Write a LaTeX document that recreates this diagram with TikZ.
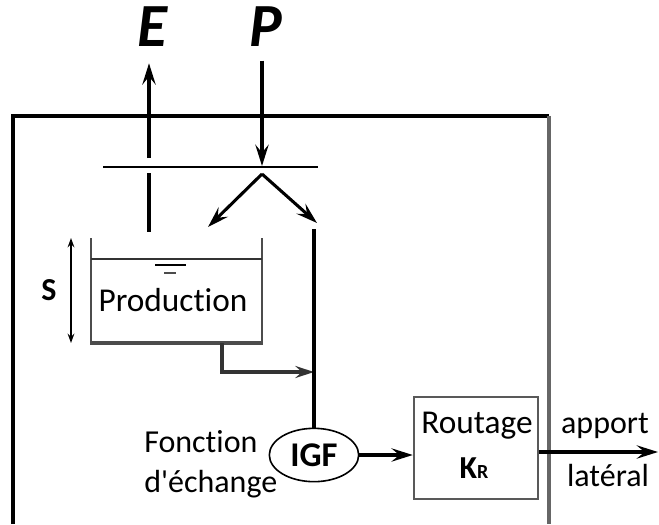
\documentclass[tikz,border=0pt]{standalone}
\usepackage{fontspec}
\setmainfont{Carlito}[Ligatures={TeXOff,NoCommon}]
\usetikzlibrary{arrows.meta,shapes.geometric}

\begin{document}
\begin{tikzpicture}[x=0.75pt, y=-0.75pt,
  every node/.style={inner sep=0pt},
  lbl/.style={font=\fontsize{24}{28}\selectfont},
  big/.style={font=\fontsize{46}{46}\selectfont\bfseries\itshape},
  wall/.style={line width=2.3pt},
  tankwall/.style={line width=1.5pt, black!70},
  flow/.style={line width=2.3pt, -{Stealth[length=16pt,width=10pt,inset=6pt]}}]
  % Parameters
  \def\bxL{13}  % left side of the catchment
  \def\bxR{549} % right side of the catchment
  \def\bxT{116} % top of the catchment
  \def\fx{314}  % fast flow branch x

  \useasboundingbox (0,0) rectangle (659,524);

  % catchment box (open at the bottom)
  \draw[wall] (\bxL,524) -- (\bxL,\bxT) -- (\bxR,\bxT);
  \draw[wall, black!60] (\bxR,\bxT) -- (\bxR,524);

  % inputs and outputs
  \node[big, anchor=base] (E) at (152,47) {E};
  \node[big, anchor=base] (P) at (266,47) {P};
  \coordinate (evap) at (149,158);
  \coordinate (interc) at (262,166);
  \coordinate (split) at (262,174);
  \coordinate (toTank) at (208,227);
  \coordinate (toFast) at (317,223);
  \draw[flow, shorten >=12pt] (evap) -- (evap |- E.south);
  \draw[flow, shorten <=10pt] (interc |- P.south) -- (interc);

  % interception line
  \draw[line width=1.1pt] (103,167) -- (318,167);
  \draw[wall] (149,173) -- (149,232);

  % split of net rainfall
  \draw[flow] (split) -- (toTank);
  \draw[flow] (split) -- (toFast);

  % production store
  \draw[tankwall] (91,238) -- (91,343);
  \draw[tankwall] (262,238) -- (262,343);
  \draw[line width=2.3pt, black!70] (90,343) -- (263,343);
  \draw[line width=1.5pt, black!80] (91,259) -- (262,259);
  \draw[line width=1.5pt] (155,265) -- (186,265);
  \draw[line width=1.5pt, black!70] (164,273) -- (176,273);
  \node[lbl, font=\fontsize{25}{28}\selectfont, anchor=base] (prod) at (173,311) {Production};

  % store capacity
  \draw[line width=1.8pt, {Stealth[length=7pt,width=5pt]}-{Stealth[length=7pt,width=5pt]}] (71,238) -- (71,343);
  \node[lbl, font=\fontsize{24}{28}\selectfont\bfseries, anchor=base] (S) at (49,300) {S};

  % percolation to the fast branch
  \coordinate (outlet) at (222,343);
  \coordinate (junction) at (\fx,372);
  \draw[line width=2.3pt, black!80, -{Stealth[length=14pt,width=9pt,inset=5pt]}] (outlet) |- (junction);

  % exchange function
  \node[draw, ellipse, line width=1.2pt, minimum width=67pt, minimum height=40pt,
        font=\fontsize{26}{28}\selectfont\bfseries] (igf) at (\fx,455) {IGF};
  \coordinate (fastTop) at (\fx,229);
  \draw[wall] (fastTop) -- (igf.north);
  \node[lbl, anchor=base west] (fonc) at (144,452) {Fonction};
  \node[lbl, anchor=base west] (ech) at (144,492) {d'échange};

  % routing store
  \node[draw=black!65, line width=1.8pt, minimum width=93pt, minimum height=76.5pt] (routage) at (476,448) {};
  \node[lbl, font=\fontsize{25}{28}\selectfont, anchor=base] (rlab) at (477,433) {Routage};
  \node[lbl, anchor=base] (kr) at (474,478) {\bfseries K\fontsize{15}{15}\selectfont R};
  \draw[flow] (igf.east) -- (routage.west |- igf.east);

  % lateral inflow
  \coordinate (lateral) at (658,452);
  \draw[flow] (routage.east |- lateral) -- (lateral);
  \node[lbl, anchor=base] (app) at (605,433) {apport};
  \node[lbl, anchor=base] (lat) at (608,486) {latéral};

\end{tikzpicture}
\end{document}
